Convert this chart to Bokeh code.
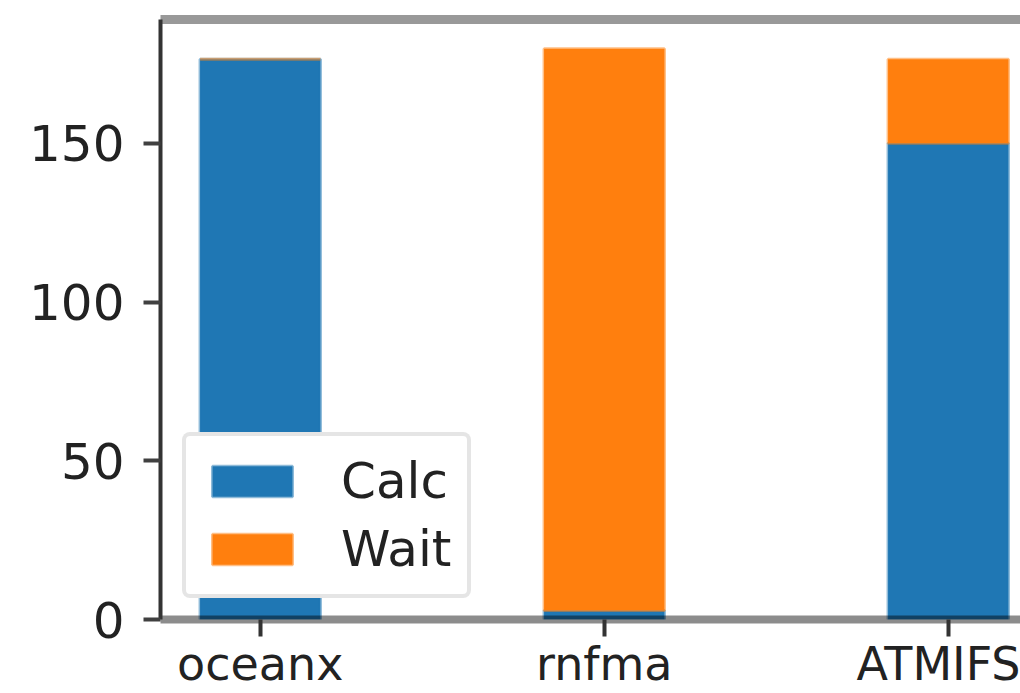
from bokeh.plotting import figure
from bokeh.models import (Range1d, FixedTicker, LinearAxis, Legend, LegendItem,
                          ColumnDataSource)
from bokeh.embed import file_html
from bokeh.resources import INLINE

categories = ["oceanx", "rnfma", "ATMIFS"]
calc = [176.5, 2.8, 150.0]
wait = [0.0, 177.0, 26.5]
y_ticks = [0, 50, 100, 150]

xs = list(range(len(categories)))
totals = [c + w for c, w in zip(calc, wait)]
src = ColumnDataSource(dict(x=xs, calc=calc, wait=wait, total=totals))

FONT = "DejaVu Sans"
FS = "50px"
TXT = "#222222"

p = figure(width=1020, height=693, output_backend="svg", toolbar_location=None,
           x_range=Range1d(-0.29, 2.21), y_range=Range1d(0, 189),
           min_border_left=160, min_border_top=19, min_border_right=0,
           min_border_bottom=0)
p.grid.visible = False
p.outline_line_color = None
p.background_fill_color = "white"

r1 = p.vbar(x="x", bottom=0, top="calc", width=0.35, source=src,
            fill_color="#1f77b4", line_color="#1f77b4", line_alpha=0.5, line_width=3)
r2 = p.vbar(x="x", bottom="calc", top="total", width=0.35, source=src,
            fill_color="#ff7f0e", line_color="#ff7f0e", line_alpha=0.5, line_width=3)

xa = p.xaxis[0]
xa.ticker = FixedTicker(ticks=xs)
xa.major_label_overrides = {i: c for i, c in enumerate(categories)}
xa.axis_line_color = "black"
xa.axis_line_alpha = 0.45
xa.axis_line_width = 8
xa.major_tick_line_color = "#333333"
xa.major_tick_line_width = 4
xa.major_tick_out = 17
xa.major_tick_in = 0
xa.minor_tick_line_color = None
xa.major_label_text_font = FONT
xa.major_label_text_font_size = "46px"
xa.major_label_text_color = TXT
xa.major_label_standoff = 0

ya = p.yaxis[0]
ya.ticker = FixedTicker(ticks=y_ticks)
ya.axis_line_color = "#333333"
ya.axis_line_width = 4
ya.major_tick_line_color = "#404040"
ya.major_tick_line_width = 4
ya.major_tick_out = 17
ya.major_tick_in = 0
ya.minor_tick_line_color = None
ya.major_label_text_font = FONT
ya.major_label_text_font_size = FS
ya.major_label_text_color = TXT
ya.major_label_standoff = 19

top = LinearAxis(ticker=FixedTicker(ticks=[]), axis_line_color="black",
                 axis_line_alpha=0.4, axis_line_width=9,
                 major_tick_line_color=None, minor_tick_line_color=None,
                 major_label_text_font_size="0px")
p.add_layout(top, "above")

legend = Legend(items=[LegendItem(label="Calc", renderers=[r1]),
                       LegendItem(label="Wait", renderers=[r2])],
                location=(22, 21))
legend.label_text_font = FONT
legend.label_text_font_size = FS
legend.label_text_color = TXT
legend.glyph_width = 100
legend.glyph_height = 38
legend.label_standoff = 39
legend.padding = 16
legend.spacing = 10
legend.margin = 0
legend.border_line_color = "#cccccc"
legend.border_line_width = 4
legend.border_radius = 8
legend.background_fill_alpha = 1.0
p.add_layout(legend, "center")

open("out.html", "w").write(file_html(p, INLINE))
